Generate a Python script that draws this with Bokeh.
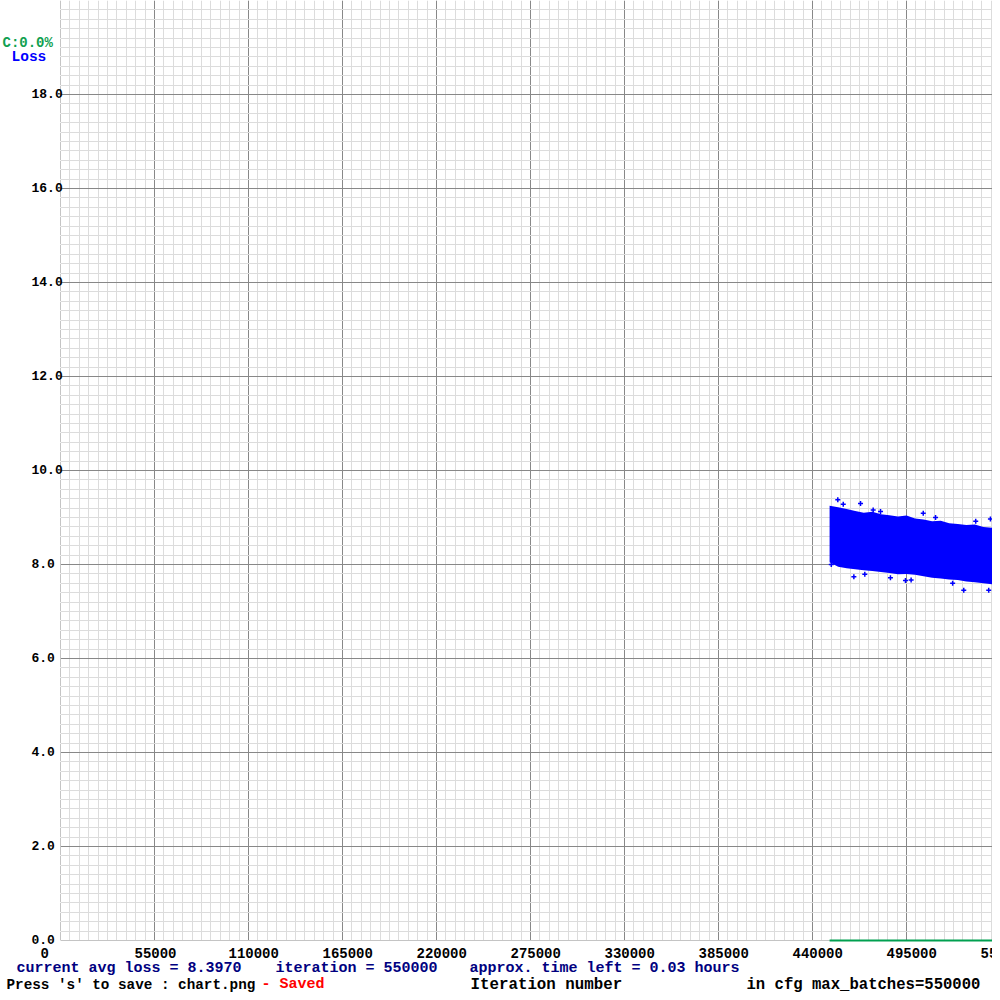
from bokeh.plotting import figure
from bokeh.models import Range1d, FixedTicker, Label, LabelSet, ColumnDataSource
from bokeh.core.properties import value
from bokeh.embed import file_html
from bokeh.resources import INLINE

# ---- data ----
band_iter = [450000, 455000, 460000, 465000, 470000, 475000, 480000, 485000, 490000, 495000, 500000,
             505000, 510000, 515000, 520000, 525000, 530000, 535000, 540000, 545000, 550000]
band_top = [9.25, 9.22, 9.18, 9.14, 9.10, 9.12, 9.07, 9.05, 9.02, 9.04, 8.98,
            8.96, 8.92, 8.93, 8.88, 8.86, 8.84, 8.85, 8.80, 8.78, 8.75]
band_bottom = [8.05, 7.95, 7.92, 7.90, 7.88, 7.86, 7.84, 7.82, 7.79, 7.80, 7.78,
               7.75, 7.72, 7.70, 7.68, 7.67, 7.64, 7.62, 7.60, 7.58, 7.56]

outlier_iter = [454800, 468100, 479800, 464200, 470600, 494400, 485600, 504800, 544100, 528500,
                543100, 548400, 497700, 548200, 458000, 475500, 512000, 522000, 535500, 451000]
outlier_loss = [9.38, 9.30, 9.13, 7.74, 7.79, 7.66, 7.72, 9.09, 8.97, 7.45,
                7.45, 7.41, 7.67, 8.87, 9.28, 9.16, 9.00, 7.60, 8.92, 8.00]

acc_iter = [450000, 550000]
acc_value = [0.0, 0.0]

x_ticks = [0, 55000, 110000, 165000, 220000, 275000, 330000, 385000, 440000, 495000, 550000]
x_tick_labels = [str(t) for t in x_ticks]
y_ticks = [0.0, 2.0, 4.0, 6.0, 8.0, 10.0, 12.0, 14.0, 16.0, 18.0]
y_tick_labels = ["%.1f" % t for t in y_ticks]

avg_loss = "8.3970"
iteration = "550000"
time_left = "0.03"
max_batches = "550000"
acc_label = "C:0.0%"

FONT = "Liberation Mono"
W, H = 992, 992
# plot area: x pixel 60 -> 0 iterations, 940 px per 550000; y pixel 940 -> 0, 47 px per unit
it_per_px = 550000 / 940.0
x0 = -60 * it_per_px
x1 = (W - 60) * it_per_px
y1 = 940 / 47.0
y0 = -(H - 940) / 47.0

p = figure(width=W, height=H, output_backend="svg", toolbar_location=None,
           x_range=Range1d(x0, x1), y_range=Range1d(y0, y1),
           min_border_left=0, min_border_right=0, min_border_top=0, min_border_bottom=0)
p.xaxis.visible = False
p.yaxis.visible = False
p.outline_line_color = None
p.background_fill_color = "white"
p.border_fill_color = "white"

minor_x = [i * 5500 for i in range(0, 101)]
minor_y = [round(i * 0.2, 1) for i in range(0, 101)]
p.xgrid.ticker = FixedTicker(ticks=x_ticks, minor_ticks=minor_x)
p.ygrid.ticker = FixedTicker(ticks=y_ticks + [20.0], minor_ticks=minor_y)
for g in (p.xgrid, p.ygrid):
    g.grid_line_color = "#888888"
    g.grid_line_width = 1
    g.minor_grid_line_color = "#dcdcdc"
    g.minor_grid_line_width = 1

# loss band and outliers
p.varea(x=band_iter, y1=band_bottom, y2=band_top, fill_color="#0000ff")
p.scatter(x=outlier_iter, y=outlier_loss, marker="cross", size=5, line_color="#0000ff", line_width=1.5)

# white margins outside the plot area (hide the grid there)
p.quad(left=[x0 * 3, x0 * 3], right=[0, x1 * 2], bottom=[y0 * 3, y0 * 3], top=[y1 * 2, 0],
       fill_color="white", fill_alpha=1, line_color=None, level="guide")

# accuracy line (drawn above the margins)
p.line(x=acc_iter, y=acc_value, line_color="#00a050", line_width=2, level="guide")

# tick labels
ysrc = ColumnDataSource(dict(x=[0] * len(y_ticks), y=y_ticks, t=y_tick_labels))
p.add_layout(LabelSet(x="x", y="y", text="t", source=ysrc, x_offset=-29, y_offset=1,
                      text_align="left", text_baseline="middle", text_font=value(FONT),
                      text_font_style="bold", text_font_size="13px", text_color="black"))
xsrc = ColumnDataSource(dict(x=x_ticks, y=[0] * len(x_ticks), t=x_tick_labels))
p.add_layout(LabelSet(x="x", y="y", text="t", source=xsrc, x_offset=-20, y_offset=-17,
                      text_align="left", text_baseline="alphabetic", text_font=value(FONT),
                      text_font_style="bold", text_font_size="14px", text_color="black"))

def lab(text, x, y_from_top, color, size="15px"):
    p.add_layout(Label(x=x, y=H - y_from_top, x_units="screen", y_units="screen", text=text,
                       text_font=FONT, text_font_style="bold", text_font_size=size,
                       text_color=color, text_align="left", text_baseline="alphabetic"))

lab(acc_label, 2, 42, "#10a050", "14px")
lab("Loss", 11, 56, "#0000ff", "14.5px")
lab("current avg loss = " + avg_loss, 16, 968, "#000080")
lab("iteration = " + iteration, 275, 968, "#000080")
lab("approx. time left = " + time_left + " hours", 469, 968, "#000080")
lab("Press 's' to save : chart.png", 6, 984, "black", "14.3px")
lab("- Saved", 261, 984, "#ff0000")
lab("Iteration number", 470, 984, "black", "15.8px")
lab("in cfg max_batches=" + max_batches, 746, 984, "black", "15.6px")

open("out.html", "w").write(file_html(p, INLINE))
